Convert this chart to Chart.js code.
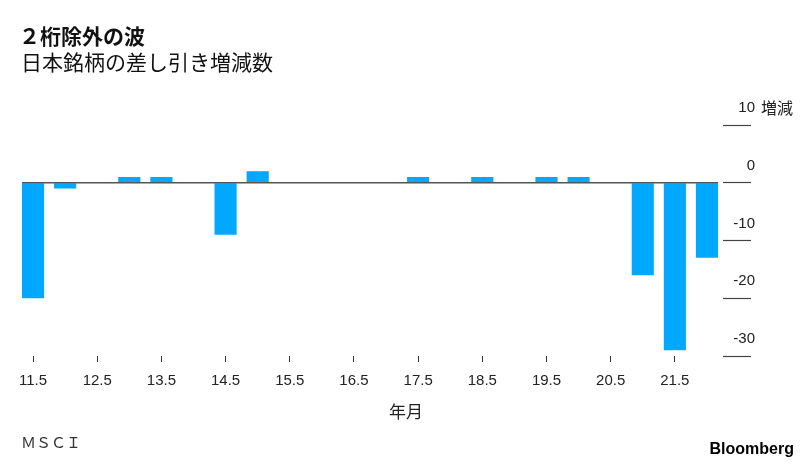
<!DOCTYPE html>
<html>
<head>
<meta charset="utf-8">
<script src="https://cdn.jsdelivr.net/npm/chart.js@4/dist/chart.umd.min.js"></script>
<style>
  html, body { margin: 0; padding: 0; background: #fff; }
  #wrap { width: 812px; height: 468px; position: relative; }
</style>
</head>
<body>
<div id="wrap"><canvas id="msci_chart"></canvas></div>
<script>
// half-year periods (year.month)
const periods = ['11.5','12','12.5','13','13.5','14','14.5','15','15.5','16','16.5',
                 '17','17.5','18','18.5','19','19.5','20','20.5','21','21.5','22'];
// net change in number of Japanese stocks in MSCI
const netChange = [-20,-1,0,1,1,0,-9,2,0,0,0,0,1,0,1,0,1,1,0,-16,-29,-13];
const yTicks = [10, 0, -10, -20, -30];

const CJK = '"Noto Sans CJK JP", "Noto Sans", sans-serif';
const LAT = '"Liberation Sans", Arial, sans-serif';

// title, notes and zero line
const decorations = {
  id: 'decorations',
  afterDatasetsDraw(chart) {
    const ctx = chart.ctx;
    const y = chart.scales.y;
    const bars = chart.getDatasetMeta(0).data;
    const first = bars[0], last = bars[bars.length - 1];
    const zero = y.getPixelForValue(0);
    ctx.save();
    ctx.strokeStyle = '#555';
    ctx.lineWidth = 1.5;
    ctx.beginPath();
    ctx.moveTo(first.x - first.width / 2, zero);
    ctx.lineTo(last.x + last.width / 2, zero);
    ctx.stroke();
    ctx.restore();
  },
  afterDraw(chart) {
    const ctx = chart.ctx;
    const y = chart.scales.y;
    ctx.save();
    ctx.fillStyle = '#111';
    ctx.textBaseline = 'middle';
    ctx.textAlign = 'left';
    ctx.font = 'bold 21px ' + CJK;
    ctx.fillText('２桁除外の波', 19, 36);
    ctx.font = '21px ' + CJK;
    ctx.fillText('日本銘柄の差し引き増減数', 21, 62);

    ctx.fillStyle = '#222';
    ctx.font = '16px ' + CJK;
    ctx.fillText('増減', 761, y.getPixelForValue(10) - 17);

    ctx.textAlign = 'center';
    ctx.font = '17px ' + CJK;
    ctx.fillText('年月', chart.width / 2, 412);

    ctx.textAlign = 'left';
    ctx.fillStyle = '#333';
    ctx.font = '15px ' + CJK;
    ctx.fillText('ＭＳＣＩ', 21, 442);

    ctx.fillStyle = '#000';
    ctx.textAlign = 'right';
    ctx.textBaseline = 'alphabetic';
    ctx.font = 'bold 16px ' + LAT;
    ctx.fillText('Bloomberg', 794, 454);
    ctx.restore();
  }
};

const ctx = document.getElementById('msci_chart');
new Chart(ctx, {
  type: 'bar',
  data: {
    labels: periods,
    datasets: [{
      label: '増減',
      data: netChange,
      backgroundColor: '#00a9ff',
      borderWidth: 0,
      barPercentage: 0.69,
      categoryPercentage: 1
    }]
  },
  options: {
    responsive: true,
    maintainAspectRatio: false,
    animation: false,
    layout: { padding: { top: 125, left: 17, right: 57, bottom: 68 } },
    plugins: {
      legend: { display: false },
      tooltip: { enabled: false }
    },
    scales: {
      x: {
        offset: true,
        border: { display: false },
        grid: {
          offset: false,
          drawOnChartArea: false,
          tickLength: 6,
          tickColor: (c) => (c.index % 2 === 0 ? '#333' : 'rgba(0,0,0,0)')
        },
        ticks: {
          autoSkip: false,
          maxRotation: 0,
          padding: 10,
          color: '#222',
          font: { family: LAT, size: 15 },
          callback: function (v, i) { return i % 2 === 0 ? this.getLabelForValue(v) : ''; }
        }
      },
      y: {
        position: 'right',
        min: -30,
        max: 10,
        afterBuildTicks: (s) => { s.ticks = yTicks.map(v => ({ value: v })); },
        afterFit: (s) => { s.width = 32; },
        border: { display: false },
        grid: {
          drawOnChartArea: false,
          tickLength: 28,
          tickColor: '#444',
          tickWidth: 1.2
        },
        ticks: {
          crossAlign: 'far',
          padding: 0,
          labelOffset: -17,
          color: '#222',
          font: { family: LAT, size: 15 }
        }
      }
    }
  },
  plugins: [decorations]
});
</script>
</body>
</html>
